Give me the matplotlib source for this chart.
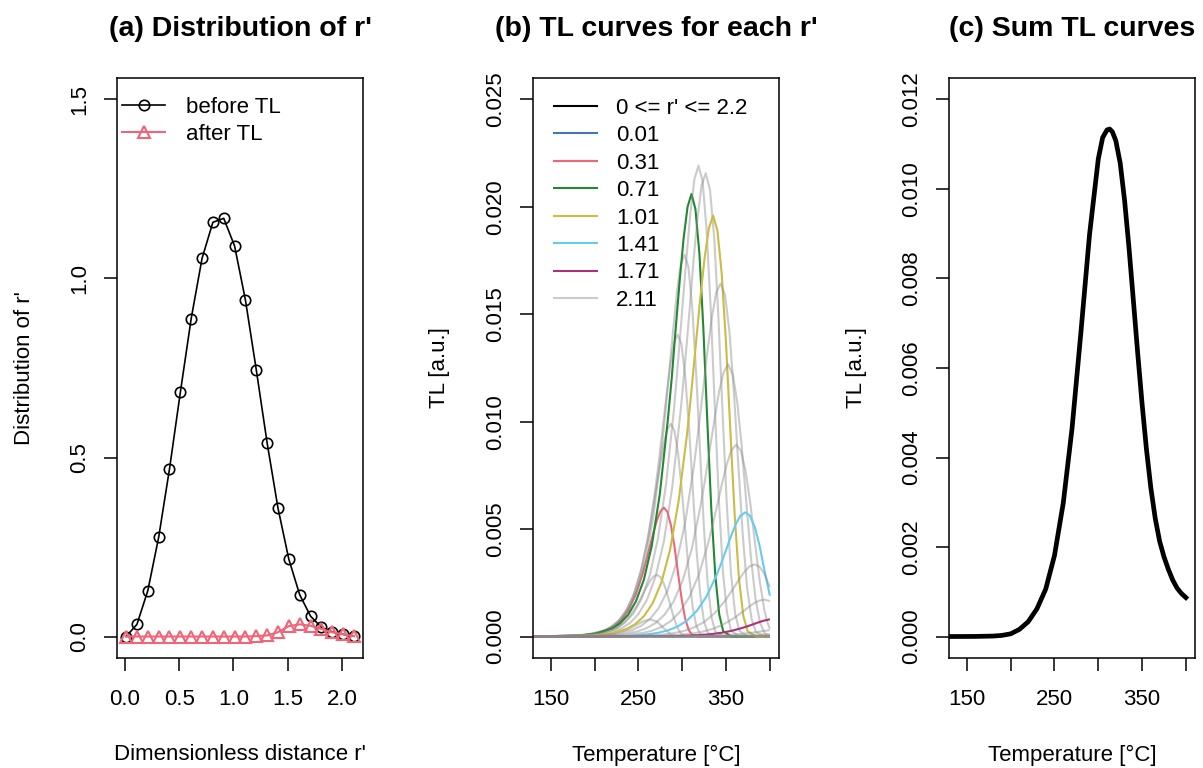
import matplotlib
matplotlib.use('Agg')
import matplotlib.pyplot as plt
from matplotlib.lines import Line2D

plt.rcParams['font.family'] = ['Liberation Sans', 'DejaVu Sans']

# ---------------- panel (a) data ----------------
r_prime = [0.01, 0.11, 0.21, 0.31, 0.41, 0.51, 0.61, 0.71, 0.81, 0.91, 1.01,
           1.11, 1.21, 1.31, 1.41, 1.51, 1.61, 1.71, 1.81, 1.91, 2.01, 2.11]
dist_before = [0.0, 0.034, 0.128, 0.277, 0.468, 0.682, 0.888, 1.056, 1.157, 1.168, 1.091,
               0.940, 0.745, 0.541, 0.359, 0.216, 0.117, 0.057, 0.026, 0.013, 0.006, 0.001]
dist_after = [0.0, 0.0, 0.0, 0.0, 0.0, 0.0, 0.0, 0.0, 0.0, 0.0, 0.0,
              0.0, 0.001, 0.003, 0.012, 0.029, 0.034, 0.030, 0.021, 0.012, 0.006, 0.001]

# ---------------- panel (b) data: TL curve for each r' ----------------
T_001 = [130, 166.6, 181.5, 196.4, 211.3, 226.2, 233.7, 241.1, 248.6, 256.0, 263.5, 270.9, 278.4, 285.8, 293.3, 400]
I_001 = [0, 0, 0, 0.000001, 0.000003, 0.000006, 0.00001, 0.000014, 0.000018, 0.00002, 0.000017, 0.00001, 0.000003, 0, 0, 0]

T_011 = [130, 171.7, 187.0, 202.3, 217.6, 232.9, 240.6, 248.2, 255.9, 263.5, 271.2, 278.8, 286.5, 294.1, 301.8, 400]
I_011 = [0, 0.000005, 0.000015, 0.000039, 0.000103, 0.000257, 0.000388, 0.000554, 0.000719, 0.0008, 0.000689, 0.00039, 0.00011, 0.00001, 0, 0]

T_021 = [130, 160.8, 176.6, 192.3, 200.2, 208.0, 215.9, 223.8, 231.7, 239.5, 247.4, 251.3, 255.3, 259.2, 263.1, 267.1, 271.0, 274.9, 278.9, 282.8, 286.7, 290.7, 294.6, 298.5, 302.5, 310.4, 400]
I_021 = [0, 0.000007, 0.000019, 0.000052, 0.000086, 0.00014, 0.000228, 0.00037, 0.00059, 0.000922, 0.00139, 0.00168, 0.00199, 0.0023, 0.00258, 0.00279, 0.00287, 0.00277, 0.00247, 0.00199, 0.0014, 0.00083, 0.000395, 0.000142, 0.000036, 0.000001, 0]

T_031 = [130, 165.5, 181.7, 198.0, 206.1, 214.2, 222.3, 230.4, 238.5, 246.6, 254.7, 258.7, 262.8, 266.8, 270.9, 275.0, 279.0, 283.1, 287.1, 291.2, 295.2, 299.3, 303.3, 307.4, 311.4, 319.5, 400]
I_031 = [0, 0.000015, 0.00004, 0.000109, 0.000179, 0.000293, 0.000478, 0.000773, 0.00123, 0.00193, 0.00291, 0.00351, 0.00415, 0.0048, 0.00539, 0.00583, 0.006, 0.0058, 0.00517, 0.00416, 0.00293, 0.00174, 0.000827, 0.000298, 0.000074, 0.000001, 0]

T_041 = [130, 170.2, 186.9, 203.6, 211.9, 220.2, 228.6, 236.9, 245.2, 253.6, 261.9, 266.1, 270.2, 274.4, 278.6, 282.7, 286.9, 291.1, 295.2, 299.4, 303.6, 307.7, 311.9, 316.1, 320.2, 328.6, 400]
I_041 = [0, 0.000025, 0.000067, 0.00018, 0.000296, 0.000484, 0.000788, 0.00128, 0.00203, 0.00318, 0.0048, 0.00579, 0.00685, 0.00793, 0.0089, 0.00962, 0.0099, 0.00957, 0.00853, 0.00686, 0.00483, 0.00286, 0.00136, 0.000491, 0.000123, 0.000002, 0]

T_051 = [130, 174.8, 191.9, 209.1, 217.6, 226.2, 234.8, 243.4, 251.9, 260.5, 269.1, 273.4, 277.7, 281.9, 286.2, 290.5, 294.8, 299.1, 303.4, 307.7, 312.0, 316.2, 320.5, 324.8, 329.1, 337.7, 400]
I_051 = [0, 0.000035, 0.000094, 0.000256, 0.00042, 0.000687, 0.00112, 0.00181, 0.00289, 0.00451, 0.00682, 0.00822, 0.00973, 0.0112, 0.0126, 0.0137, 0.01405, 0.0136, 0.0121, 0.00973, 0.00685, 0.00407, 0.00194, 0.000697, 0.000174, 0.000003, 0]

T_061 = [130, 179.3, 196.9, 214.5, 223.3, 232.1, 240.9, 249.7, 258.6, 267.4, 276.2, 280.6, 285.0, 289.4, 293.8, 298.2, 302.6, 307.0, 311.4, 315.8, 320.2, 324.6, 329.0, 333.4, 337.8, 346.6, 400]
I_061 = [0, 0.000044, 0.000119, 0.000324, 0.000532, 0.000869, 0.00142, 0.00229, 0.00365, 0.00571, 0.00863, 0.0104, 0.0123, 0.0142, 0.016, 0.0173, 0.01778, 0.0172, 0.0153, 0.0123, 0.00867, 0.00514, 0.00245, 0.000882, 0.00022, 0.000004, 0]

T_071 = [130, 183.7, 201.8, 220.0, 229.0, 238.1, 247.1, 256.2, 265.2, 274.3, 283.3, 287.9, 292.4, 296.9, 301.4, 306.0, 310.5, 315.0, 319.6, 324.1, 328.6, 333.1, 337.7, 342.2, 346.7, 355.8, 400]
I_071 = [0, 0.000051, 0.000138, 0.000375, 0.000616, 0.00101, 0.00164, 0.00265, 0.00423, 0.00662, 0.01, 0.012, 0.0143, 0.0165, 0.0185, 0.02, 0.0206, 0.0199, 0.0178, 0.0143, 0.01, 0.00596, 0.00284, 0.00102, 0.000255, 0.000004, 0]

T_081 = [130, 188.2, 206.8, 225.5, 234.8, 244.1, 253.4, 262.7, 272.0, 281.3, 290.6, 295.2, 299.9, 304.5, 309.2, 313.9, 318.5, 323.2, 327.8, 332.5, 337.1, 341.8, 346.4, 351.1, 355.7, 365.0, 400]
I_081 = [0, 0.000054, 0.000147, 0.000399, 0.000655, 0.00107, 0.00175, 0.00282, 0.00451, 0.00704, 0.0106, 0.0128, 0.0152, 0.0175, 0.0197, 0.0213, 0.02192, 0.0212, 0.0189, 0.0152, 0.0107, 0.00634, 0.00302, 0.00109, 0.000272, 0.000004, 0]

T_091 = [130, 192.8, 212.0, 231.1, 240.7, 250.2, 259.8, 269.4, 279.0, 288.5, 298.1, 302.9, 307.7, 312.4, 317.2, 322.0, 326.8, 331.6, 336.4, 341.2, 345.9, 350.7, 355.5, 360.3, 365.1, 374.7, 400]
I_091 = [0, 0.000054, 0.000145, 0.000393, 0.000645, 0.00106, 0.00172, 0.00278, 0.00443, 0.00693, 0.0105, 0.0126, 0.0149, 0.0173, 0.0194, 0.021, 0.02157, 0.0208, 0.0186, 0.0149, 0.0105, 0.00624, 0.00297, 0.00107, 0.000267, 0.000004, 0]

T_101 = [130, 197.4, 217.1, 236.8, 246.6, 256.5, 266.3, 276.2, 286.0, 295.8, 305.7, 310.6, 315.5, 320.4, 325.4, 330.3, 335.2, 340.1, 345.0, 350.0, 354.9, 359.8, 364.7, 369.6, 374.6, 384.4, 400]
I_101 = [0, 0.000049, 0.000132, 0.000357, 0.000586, 0.000958, 0.00156, 0.00252, 0.00403, 0.0063, 0.00951, 0.0115, 0.0136, 0.0157, 0.0176, 0.019, 0.0196, 0.0189, 0.0169, 0.0136, 0.00956, 0.00567, 0.0027, 0.000972, 0.000243, 0.000004, 0]

T_111 = [130, 202.1, 222.3, 242.6, 252.7, 262.8, 272.9, 283.0, 293.1, 303.2, 313.4, 318.4, 323.5, 328.5, 333.6, 338.6, 343.7, 348.8, 353.8, 358.9, 363.9, 369.0, 374.0, 379.1, 384.2, 394.3, 400]
I_111 = [0, 0.000041, 0.00011, 0.000299, 0.000491, 0.000803, 0.00131, 0.00212, 0.00338, 0.00528, 0.00797, 0.00961, 0.0114, 0.0132, 0.0148, 0.016, 0.01643, 0.0159, 0.0142, 0.0114, 0.00801, 0.00475, 0.00226, 0.000815, 0.000204, 0.000003, 0]

T_121 = [130, 206.8, 227.6, 248.4, 258.8, 269.2, 279.6, 290.0, 300.4, 310.8, 321.2, 326.4, 331.6, 336.8, 342.0, 347.2, 352.4, 357.6, 362.8, 368.0, 373.2, 378.4, 383.6, 388.8, 394.0, 400]
I_121 = [0, 0.000031, 0.000085, 0.000231, 0.000379, 0.00062, 0.00101, 0.00163, 0.0026, 0.00407, 0.00615, 0.00741, 0.00877, 0.0101, 0.0114, 0.0123, 0.01267, 0.0122, 0.0109, 0.00878, 0.00618, 0.00367, 0.00175, 0.000628, 0.000157, 0.000018]

T_131 = [130, 211.7, 233.1, 254.5, 265.2, 275.9, 286.6, 297.3, 308.1, 318.8, 329.5, 334.8, 340.2, 345.5, 350.9, 356.2, 361.6, 367.0, 372.3, 377.7, 383.0, 388.4, 393.7, 397.0, 400]
I_131 = [0, 0.000022, 0.00006, 0.000163, 0.000267, 0.000437, 0.000711, 0.00115, 0.00184, 0.00287, 0.00433, 0.00522, 0.00618, 0.00715, 0.00803, 0.00868, 0.00893, 0.00863, 0.0077, 0.00619, 0.00436, 0.00258, 0.00123, 0.00068, 0.000359]

T_141 = [130, 217.0, 239.1, 261.3, 272.3, 283.4, 294.4, 305.5, 316.5, 327.6, 338.6, 344.2, 349.7, 355.2, 360.7, 366.3, 371.8, 377.3, 382.9, 388.4, 393.9, 400]
I_141 = [0, 0.000014, 0.000039, 0.000105, 0.000173, 0.000283, 0.00046, 0.000744, 0.00119, 0.00186, 0.00281, 0.00338, 0.004, 0.00463, 0.0052, 0.00562, 0.00578, 0.00562, 0.00508, 0.0042, 0.00305, 0.0019]

T_151 = [130, 222.5, 245.4, 268.3, 279.7, 291.1, 302.5, 314.0, 325.4, 336.8, 348.2, 353.9, 359.7, 365.4, 371.1, 376.8, 382.5, 388.2, 393.9, 400]
I_151 = [0, 0.000008, 0.000023, 0.000061, 0.0001, 0.000164, 0.000267, 0.000433, 0.00069, 0.00108, 0.00163, 0.00197, 0.00233, 0.00269, 0.00302, 0.00327, 0.00336, 0.00325, 0.0029, 0.00229]

T_161 = [130, 228.2, 251.9, 275.5, 287.3, 299.1, 311.0, 322.8, 334.6, 346.4, 358.2, 364.2, 370.1, 376.0, 381.9, 387.8, 393.7, 400]
I_161 = [0, 0.000004, 0.000012, 0.000031, 0.000051, 0.000084, 0.000137, 0.000222, 0.000353, 0.000553, 0.000835, 0.00101, 0.00119, 0.00138, 0.00155, 0.00167, 0.00172, 0.00165]

T_171 = [130, 233.8, 258.3, 282.8, 295.0, 307.2, 319.4, 331.7, 343.9, 356.1, 368.3, 374.4, 380.6, 386.7, 392.8, 400]
I_171 = [0, 0.000002, 0.000006, 0.000015, 0.000025, 0.00004, 0.000065, 0.000105, 0.000168, 0.000263, 0.000397, 0.000478, 0.000566, 0.000655, 0.000735, 0.000802]

T_181 = [130, 265.1, 290.4, 315.7, 341.0, 366.4, 379.0, 391.7, 400]
I_181 = [0, 0.000002, 0.000007, 0.000018, 0.000046, 0.000116, 0.000175, 0.000249, 0.0003]

T_191 = [130, 271.8, 298.0, 324.2, 350.4, 376.6, 389.7, 400]
I_191 = [0, 0.000001, 0.000003, 0.000009, 0.000022, 0.000056, 0.000084, 0.000112]

T_201 = [130, 278.8, 306.0, 333.2, 360.4, 387.6, 400]
I_201 = [0, 0.0000005, 0.0000014, 0.000004, 0.00001, 0.000025, 0.000036]

T_211 = [130, 300, 350, 380, 400]
I_211 = [0, 0, 0.000001, 0.000003, 0.000004]

# ---------------- panel (c) data: summed TL ----------------
sum_T = [130, 160, 180, 190, 200, 210, 220, 230, 240, 250, 260, 270, 280, 290, 300, 305,
         310, 313, 316, 320, 325, 330, 335, 340, 345, 350, 355, 360, 365, 370, 375, 380,
         385, 390, 395, 400]
sum_I = [0, 0.000002, 0.00001, 0.000025, 0.00006, 0.00016, 0.00033, 0.00062, 0.00106,
         0.00181, 0.00298, 0.00464, 0.00676, 0.00898, 0.01067, 0.01115, 0.01132, 0.01134,
         0.01128, 0.01108, 0.01058, 0.00975, 0.0087, 0.00752, 0.00633, 0.0052, 0.00418,
         0.00332, 0.00264, 0.00213, 0.00178, 0.0015, 0.00126, 0.00108, 0.00096, 0.00087]

legend_labels_b = ["0 <= r' <= 2.2", "0.01", "0.31", "0.71", "1.01", "1.41", "1.71", "2.11"]

# ---------------- styling ----------------
BLUE, RED, GREEN, YELLOW = '#4477AA', '#EE6677', '#228833', '#CCBB44'
CYAN, PURPLE = '#66CCEE', '#AA3377'
GREY = (0.55, 0.55, 0.55, 0.45)

curves = [
    (T_001, I_001, BLUE), (T_011, I_011, GREY), (T_021, I_021, GREY), (T_031, I_031, RED),
    (T_041, I_041, GREY), (T_051, I_051, GREY), (T_061, I_061, GREY), (T_071, I_071, GREEN),
    (T_081, I_081, GREY), (T_091, I_091, GREY), (T_101, I_101, YELLOW), (T_111, I_111, GREY),
    (T_121, I_121, GREY), (T_131, I_131, GREY), (T_141, I_141, CYAN), (T_151, I_151, GREY),
    (T_161, I_161, GREY), (T_171, I_171, PURPLE), (T_181, I_181, GREY), (T_191, I_191, GREY),
    (T_201, I_201, GREY), (T_211, I_211, GREY),
]

FS = 16
W, H = 1203, 768
fig = plt.figure(figsize=(W / 100, H / 100), dpi=100)
box_top, box_bot, box_w = 78, 658, 246
box_h = box_bot - box_top


def make_ax(left):
    return fig.add_axes([left / W, 1 - box_bot / H, box_w / W, box_h / H])


def style(ax):
    for s in ax.spines.values():
        s.set_linewidth(1.1)
    ax.tick_params(axis='both', direction='out', length=9.5, width=1.1, labelsize=FS)
    ax.tick_params(axis='x', pad=13)
    ax.tick_params(axis='y', pad=10)
    for lab in ax.get_yticklabels():
        lab.set_rotation(90)
        lab.set_va('center')
        lab.set_ha('right')


ax_a = make_ax(117)
ax_b = make_ax(533)
ax_c = make_ax(949)

# ---- (a)
ax_a.plot(r_prime, dist_before, color='black', lw=1.2, marker='o', ms=7.5,
          mfc='none', mec='black', mew=1.2, label='before TL')
ax_a.plot(r_prime, dist_after, color=RED, lw=1.5, marker='^', ms=8,
          mfc='none', mec=RED, mew=1.5, label='after TL')
ax_a.set_xlim(-0.074, 2.194)
ax_a.set_ylim(-0.06, 1.56)
ax_a.set_xticks([0.0, 0.5, 1.0, 1.5, 2.0])
ax_a.set_xticklabels(['0.0', '0.5', '1.0', '1.5', '2.0'])
ax_a.set_yticks([0.0, 0.5, 1.0, 1.5])
ax_a.set_yticklabels(['0.0', '0.5', '1.0', '1.5'])
style(ax_a)
ax_a.legend(loc='upper left', frameon=False, fontsize=FS, handlelength=1.95,
            handletextpad=0.95, labelspacing=0.28, borderaxespad=0.15, borderpad=0.3,
            bbox_to_anchor=(-5 / box_w, 1 - 9 / box_h))

# ---- (b)
for T, I, c in curves:
    ax_b.plot(T, I, color=c, lw=1.5, solid_capstyle='butt')
ax_b.set_xlim(129.6, 410.4)
ax_b.set_ylim(-0.001, 0.026)
ax_b.set_xticks([150, 200, 250, 300, 350, 400])
ax_b.set_xticklabels(['150', '', '250', '', '350', ''])
ax_b.set_yticks([0.0, 0.005, 0.010, 0.015, 0.020, 0.025])
ax_b.set_yticklabels(['0.000', '0.005', '0.010', '0.015', '0.020', '0.025'])
style(ax_b)
handles_b = [Line2D([], [], color=c, lw=1.5) for c in
             ['black', BLUE, RED, GREEN, YELLOW, CYAN, PURPLE, GREY]]
ax_b.legend(handles_b, legend_labels_b, loc='upper left', frameon=False, fontsize=FS,
            handlelength=1.95, handletextpad=0.85, labelspacing=0.29,
            borderaxespad=0.5, borderpad=0.3, bbox_to_anchor=(3 / box_w, 1 - 2 / box_h))

# ---- (c)
ax_c.plot(sum_T, sum_I, color='black', lw=3.4, solid_joinstyle='round')
ax_c.set_xlim(129.6, 410.4)
ax_c.set_ylim(-0.00048, 0.01248)
ax_c.set_xticks([150, 200, 250, 300, 350, 400])
ax_c.set_xticklabels(['150', '', '250', '', '350', ''])
ax_c.set_yticks([0.0, 0.002, 0.004, 0.006, 0.008, 0.010, 0.012])
ax_c.set_yticklabels(['0.000', '0.002', '0.004', '0.006', '0.008', '0.010', '0.012'])
style(ax_c)

# ---- labels and titles
ymid = 1 - ((box_top + box_bot) / 2) / H
for left, title, xl, yl, ylx in [
        (117, "(a) Distribution of r'", "Dimensionless distance r'", "Distribution of r'", 25),
        (533, "(b) TL curves for each r'", "Temperature [°C]", "TL [a.u.]", 440),
        (949, "(c) Sum TL curves", "Temperature [°C]", "TL [a.u.]", 856)]:
    cx = (left + box_w / 2) / W
    fig.text(cx, 1 - 29 / H, title, ha='center', va='center', fontsize=20.5, fontweight='bold')
    fig.text(cx, 1 - 755 / H, xl, ha='center', va='center', fontsize=FS)
    fig.text(ylx / W, ymid, yl, ha='center', va='center', rotation=90, fontsize=FS)

fig.savefig('out.png', dpi=100)
